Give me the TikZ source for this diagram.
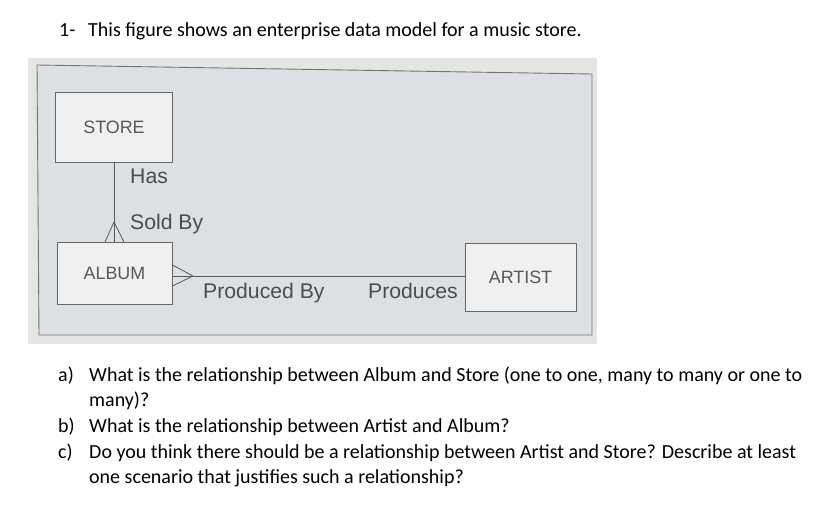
\documentclass[tikz,border=0pt]{standalone}
\usepackage{fontspec}
\setmainfont{Carlito}
\newfontfamily\diagfont{Liberation Sans}
\begin{document}
\begin{tikzpicture}[x=1pt,y=-1pt,
  qtext/.style={anchor=base west,inner sep=0pt,font=\fontsize{20}{24}\selectfont,text=black},
  entity/.style={draw=black!60,line width=0.9pt,fill=white!88!gray,inner sep=0pt,font=\diagfont\fontsize{17.9}{20}\selectfont,text=black!65},
  rel/.style={anchor=base west,inner sep=0pt,font=\diagfont\fontsize{21.2}{24}\selectfont,text=black!70},
  conn/.style={draw=black!65,line width=0.8pt}]
\useasboundingbox (0,0) rectangle (822,508);
% photo
\fill[fill={rgb,255:red,229;green,229;blue,228}] (28,58) rectangle (597,344);
\fill[fill={rgb,255:red,220;green,224;blue,226}] (37,65) -- (592,74) -- (592,335) -- (39,335) -- cycle;
\draw[black!55,line width=0.9pt] (37,65) -- (592,74) -- (592,335) -- (39,335) -- cycle;
% title
\node[qtext] (num) at (59,37) {1-};
\node[qtext] (title) at (88,37) {This figure shows an enterprise data model for a music store.};
% entities
\node[entity,minimum width=117,minimum height=70] (store) at (114,127) {STORE};
\node[entity,minimum width=115,minimum height=62,text depth=0pt] (album) at (114.5,273) {ALBUM};
\node[entity,minimum width=111,minimum height=68] (artist) at (520.5,277) {ARTIST};
% connectors
\coordinate (sa) at (114,222);
\coordinate (ab) at (193,276);
\draw[conn] (store.south -| sa) -- (album.north -| sa);
\draw[conn] (sa) -- (105,242) (sa) -- (124,242);
\draw[conn] (album.east |- ab) -- (artist.west |- ab);
\draw[conn] (ab) -- (album.east |- 0,265) (ab) -- (album.east |- 0,286);
% labels
\node[rel] (has) at (130,183) {Has};
\node[rel] (sold) at (130,229) {Sold By};
\node[rel] (prodby) at (203,298) {Produced By};
\node[rel] (prods) at (368,298) {Produces};
% questions
\node[qtext] (qa) at (58,381) {a)};
\node[qtext] (qat) at (89,381) {What is the relationship between Album and Store (one to one, many to many or one to};
\node[qtext] (qat2) at (89,406) {many)?};
\node[qtext] (qb) at (58,432) {b)};
\node[qtext] (qbt) at (89,432) {What is the relationship between Artist and Album?};
\node[qtext] (qc) at (58,458) {c)};
\node[qtext] (qct) at (89,458) {Do you think there should be a relationship between Artist and Store? Describe at least};
\node[qtext] (qct2) at (89,483) {one scenario that justifies such a relationship?};
\end{tikzpicture}
\end{document}
